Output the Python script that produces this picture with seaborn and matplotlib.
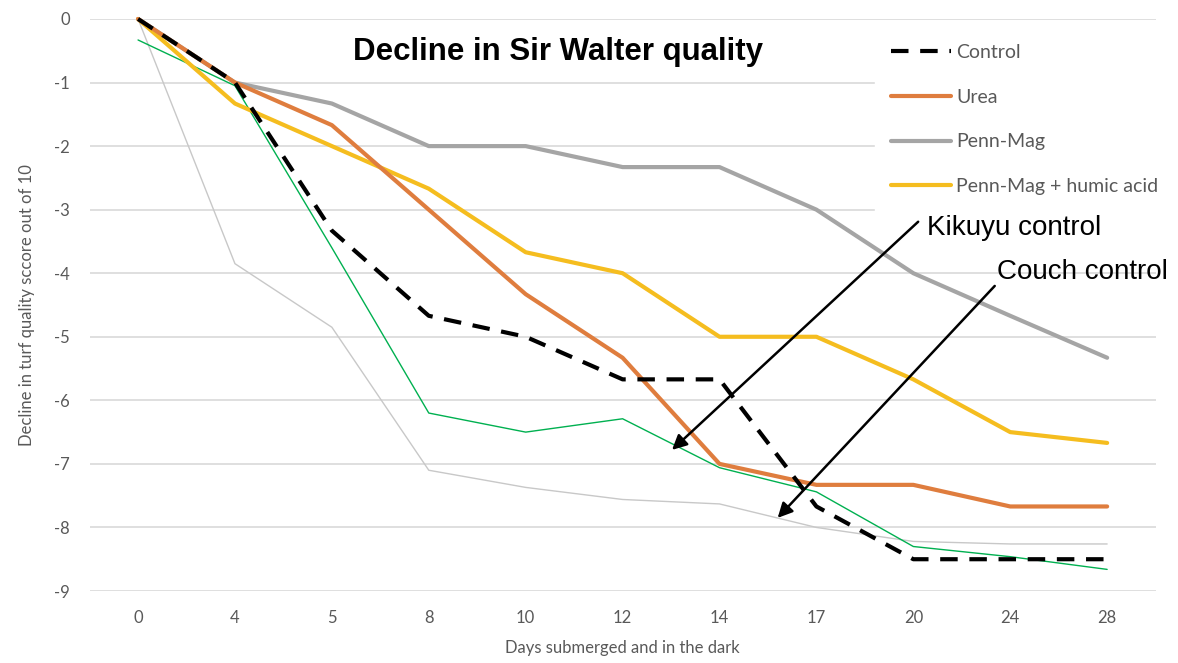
import pandas as pd
import seaborn as sns
import numpy as np
import matplotlib.pyplot as plt

# days submerged (shown as evenly spaced categories)
days = ['0', '4', '5', '8', '10', '12', '14', '17', '20', '24', '28']
control = [0, -1.0, -3.33, -4.67, -5.0, -5.67, -5.67, -7.67, -8.5, -8.5, -8.5]
urea = [0, -1.0, -1.67, -3.0, -4.33, -5.33, -7.0, -7.33, -7.33, -7.67, -7.67]
penn_mag = [0, -1.0, -1.33, -2.0, -2.0, -2.33, -2.33, -3.0, -4.0, -4.67, -5.33]
penn_humic = [0, -1.33, -2.0, -2.67, -3.67, -4.0, -5.0, -5.0, -5.67, -6.5, -6.67]
# hand-drawn reference curves
kikuyu = [-0.33, -1.05, -3.6, -6.2, -6.5, -6.29, -7.06, -7.44, -8.3, -8.46, -8.66]
couch = [0, -3.85, -4.85, -7.1, -7.37, -7.56, -7.63, -8.0, -8.22, -8.26, -8.26]

sns.set_style('white')
plt.rcParams['font.family'] = ['Lato', 'DejaVu Sans']
plt.rcParams['axes.unicode_minus'] = False

fig = plt.figure(figsize=(11.78, 6.63), dpi=100)
ax = fig.add_axes([89.6 / 1178, 72 / 663, 1066 / 1178, 572 / 663])

x = np.arange(len(days))
tick_grey = '#595959'

sns.lineplot(x=x, y=couch, ax=ax, color='#c8c8c8', lw=1, zorder=2)
sns.lineplot(x=x, y=kikuyu, ax=ax, color='#00b050', lw=1, zorder=2)
sns.lineplot(x=x, y=penn_mag, ax=ax, color='#a5a5a5', lw=3, label='Penn-Mag', zorder=3)
sns.lineplot(x=x, y=penn_humic, ax=ax, color='#f5bd1f', lw=3, label='Penn-Mag + humic acid', zorder=3)
sns.lineplot(x=x, y=urea, ax=ax, color='#df7d3e', lw=3, label='Urea', zorder=3)
sns.lineplot(x=x, y=control, ax=ax, color='black', lw=3, label='Control', zorder=4)
ax.lines[-1].set_dashes((4.2, 2.8))

ax.set_xlim(-0.5, len(days) - 0.5)
ax.set_ylim(-9, 0)
ax.set_xticks(x)
ax.set_xticklabels(days)
ax.set_yticks(range(-9, 1))
ax.tick_params(axis='both', length=0, labelsize=12, colors=tick_grey)
ax.tick_params(axis='y', pad=14)
ax.tick_params(axis='x', pad=14)
ax.grid(axis='y', color='#d9d9d9', lw=1.2)
ax.set_axisbelow(True)
for s in ax.spines.values():
    s.set_visible(False)
for ln in ax.lines:
    ln.set_clip_on(False)

ax.set_xlabel('Days submerged and in the dark', fontsize=12, color=tick_grey, labelpad=10)
ax.set_ylabel('Decline in turf quality sccore out of 10', fontsize=12, color=tick_grey, labelpad=14)

handles, labels = ax.get_legend_handles_labels()
order = ['Control', 'Urea', 'Penn-Mag', 'Penn-Mag + humic acid']
hmap = dict(zip(labels, handles))
leg = ax.legend([hmap[k] for k in order], order, loc='upper right',
                bbox_to_anchor=(1.026, 1.0), frameon=True, fancybox=False,
                facecolor='white', edgecolor='white', framealpha=1,
                fontsize=14, handlelength=3.1, handletextpad=0.25,
                labelspacing=1.42, borderpad=0.8)
for t in leg.get_texts():
    t.set_color(tick_grey)
leg.set_zorder(5)

fig.text(558 / 1178, 1 - 52 / 663, 'Decline in Sir Walter quality', ha='center', va='center',
         fontsize=22.5, fontweight='bold', family='Liberation Sans', color='black')

arrow = dict(arrowstyle='-|>', color='black', lw=1.8, mutation_scale=22, shrinkA=0, shrinkB=0)
ax.annotate('', xy=(5.51, -6.78), xytext=(8.05, -3.19), arrowprops=arrow, zorder=6)
ax.annotate('', xy=(6.6, -7.85), xytext=(8.84, -4.2), arrowprops=arrow, zorder=6)
ax.text(8.14, -3.29, 'Kikuyu control', fontsize=20, family='Liberation Sans',
        color='black', va='center', zorder=6)
ax.text(8.86, -3.98, 'Couch control', fontsize=20, family='Liberation Sans',
        color='black', va='center', zorder=6)

fig.savefig('out.png', dpi=100)
